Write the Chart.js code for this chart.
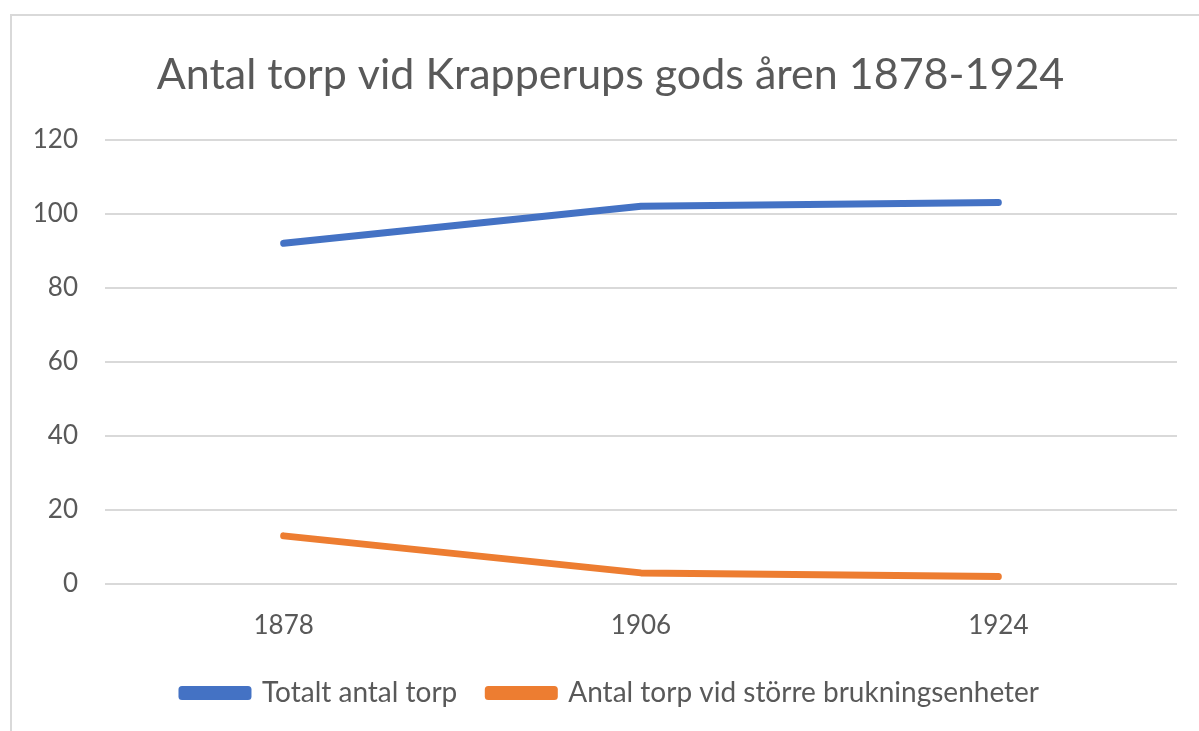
<!DOCTYPE html>
<html><head><meta charset="utf-8">
<script src="https://cdn.jsdelivr.net/npm/chart.js@4.4.0/dist/chart.umd.min.js"></script>
<style>html,body{margin:0;padding:0;background:#fff;}#wrap{width:1199px;height:731px;position:relative;}</style>
</head><body><div id="wrap"><canvas id="c" width="1199" height="731"></canvas></div>
<script>
const categories = ["1878", "1906", "1924"];
const totaltAntalTorp = [92, 102, 103];
const antalTorpStorre = [13, 3, 2];
const seriesNames = ["Totalt antal torp", "Antal torp vid större brukningsenheter"];
const titleText = "Antal torp vid Krapperups gods åren 1878-1924";
const yMin = 0, yMax = 120, yStep = 20;

const FONT = "Lato, 'Open Sans', sans-serif";
const TXT = "#595959";

const borderPlugin = {
  id: 'frame',
  beforeDraw(chart) {
    const ctx = chart.ctx;
    ctx.save();
    ctx.fillStyle = '#fff';
    ctx.fillRect(0, 0, chart.width, chart.height);
    ctx.strokeStyle = '#d9d9d9';
    ctx.lineWidth = 2;
    ctx.strokeRect(11, 15, 1400, 900);
    ctx.restore();
  }
};

new Chart(document.getElementById('c'), {
  type: 'line',
  data: {
    labels: categories,
    datasets: [
      { label: seriesNames[0], data: totaltAntalTorp, borderColor: '#4472C4', backgroundColor: '#4472C4',
        borderWidth: 7, borderCapStyle: 'round', borderJoinStyle: 'round', pointRadius: 0, tension: 0 },
      { label: seriesNames[1], data: antalTorpStorre, borderColor: '#ED7D31', backgroundColor: '#ED7D31',
        borderWidth: 7, borderCapStyle: 'round', borderJoinStyle: 'round', pointRadius: 0, tension: 0 }
    ]
  },
  options: {
    responsive: false,
    animation: false,
    layout: { padding: { left: 22, right: 0, top: 49, bottom: 14 } },
    plugins: {
      title: { display: true, text: titleText, color: TXT, font: { family: FONT, size: 43, weight: 'normal' },
        padding: { top: 0, bottom: 39 } },
      legend: { position: 'bottom', labels: { color: TXT, font: { family: FONT, size: 28 }, boxWidth: 66, boxHeight: 7, padding: 31 } },
      tooltip: { enabled: false }
    },
    scales: {
      x: {
        offset: true,
        grid: { display: false, drawTicks: false },
        border: { display: false },
        ticks: { color: TXT, font: { family: FONT, size: 26 }, padding: 26 },
        afterFit(scale) { scale.height = 64; }
      },
      y: {
        min: yMin, max: yMax,
        grid: { color: '#d9d9d9', lineWidth: 2, drawTicks: false },
        border: { display: false },
        ticks: { stepSize: yStep, color: TXT, font: { family: FONT, size: 26 }, padding: 27 },
        afterFit(scale) { scale.width = 83; }
      },
      yRight: {
        position: 'right',
        display: true,
        grid: { display: false, drawTicks: false },
        border: { display: false },
        ticks: { display: false },
        afterFit(scale) { scale.width = 22; }
      }
    }
  },
  plugins: [borderPlugin]
});
</script></body></html>
